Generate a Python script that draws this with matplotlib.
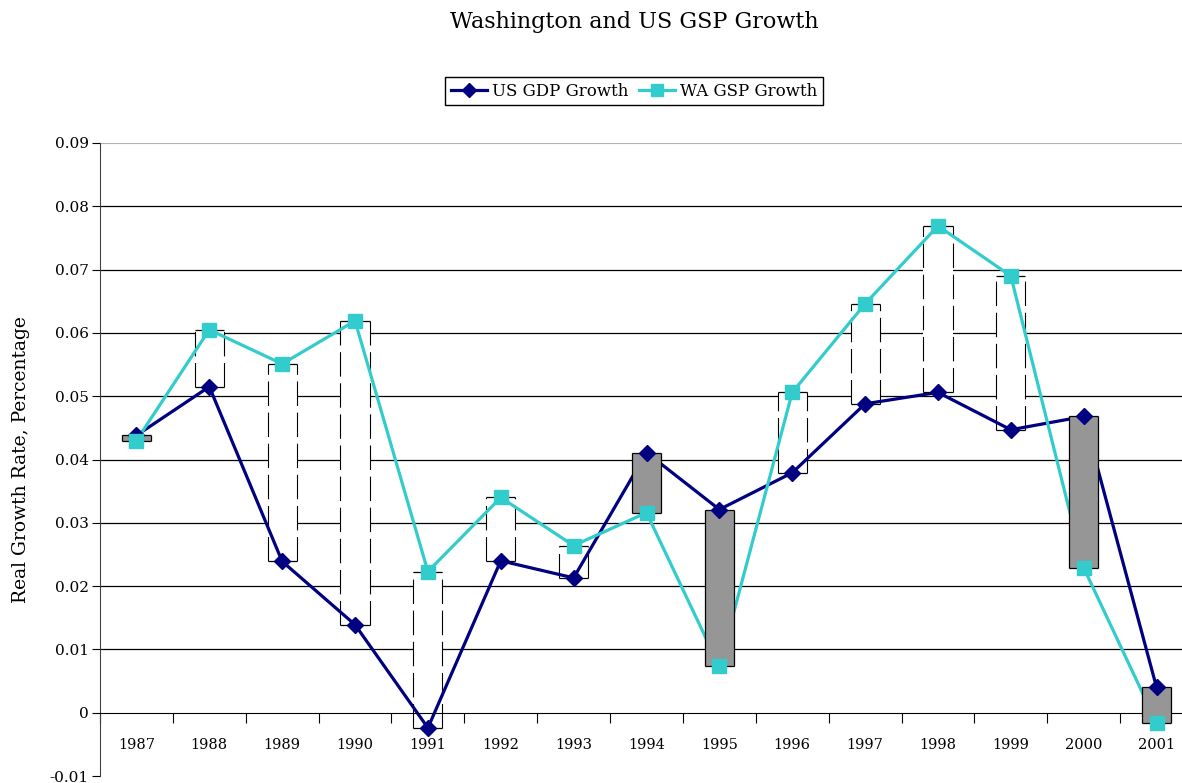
import numpy as np
import matplotlib
matplotlib.use("Agg")
import matplotlib.pyplot as plt
from matplotlib.ticker import FixedLocator, NullFormatter

years = ["1987", "1988", "1989", "1990", "1991", "1992", "1993", "1994",
         "1995", "1996", "1997", "1998", "1999", "2000", "2001"]
us_gdp = [0.0438, 0.0515, 0.0239, 0.0139, -0.0024, 0.0240, 0.0213, 0.0411,
          0.0321, 0.0379, 0.0488, 0.0506, 0.0447, 0.0468, 0.0040]
wa_gsp = [0.0430, 0.0605, 0.0551, 0.0619, 0.0223, 0.0340, 0.0264, 0.0316,
          0.0073, 0.0506, 0.0646, 0.0769, 0.0690, 0.0229, -0.0016]
yticks = [-0.01, 0, 0.01, 0.02, 0.03, 0.04, 0.05, 0.06, 0.07, 0.08, 0.09]
ytick_labels = ["-0.01", "0", "0.01", "0.02", "0.03", "0.04", "0.05",
                "0.06", "0.07", "0.08", "0.09"]

plt.rcParams["font.family"] = ["DejaVu Serif"]

fig = plt.figure(figsize=(11.82, 7.83), dpi=100)
ax = fig.add_axes([100 / 1182, 7 / 783, 1093 / 1182, 633 / 783])

x = np.arange(len(years))
us = np.array(us_gdp)
wa = np.array(wa_gsp)
lo = np.minimum(us, wa)
hi = np.maximum(us, wa)
up = wa >= us
w = 0.4

# up-down bars
ax.bar(x[~up], (hi - lo)[~up], bottom=lo[~up], width=w, color="#969696",
       edgecolor="none", zorder=3)
ax.bar(x[up], (hi - lo)[up], bottom=lo[up], width=w, color="white",
       edgecolor="none", zorder=1.5)
ax.hlines(np.r_[lo, hi], np.r_[x, x] - w / 2, np.r_[x, x] + w / 2,
          colors="black", lw=0.9, zorder=3.1)
ax.vlines(np.r_[x[~up] - w / 2, x[~up] + w / 2], np.r_[lo[~up], lo[~up]],
          np.r_[hi[~up], hi[~up]], colors="black", lw=0.9, zorder=3.1)
ax.vlines(np.r_[x[up] - w / 2, x[up] + w / 2], np.r_[lo[up], lo[up]],
          np.r_[hi[up], hi[up]], colors="black", lw=0.8,
          linestyles=(0, (22, 6)), zorder=1.6)

# lines
ax.plot(x, us, color="#000080", lw=2.3, zorder=2.5)
ax.plot(x, wa, color="#33CCCC", lw=2.3, zorder=2.5)
ax.plot(x, us, color="#000080", lw=0, marker="D", ms=8.5, zorder=4,
        label="US GDP Growth")
ax.plot(x, wa, color="#33CCCC", lw=0, marker="s", ms=9.5, zorder=4,
        label="WA GSP Growth")

ax.set_xlim(-0.5, len(years) - 0.5)
ax.set_ylim(-0.01, 0.09)

ax.set_yticks(yticks)
ax.set_yticklabels(ytick_labels, fontsize=11)
ax.tick_params(axis="y", direction="out", length=6, width=0.8, pad=2,
               colors="black")
for y in yticks[2:-1]:
    ax.axhline(y, color="black", lw=0.9, zorder=1)
ax.axhline(0.09, color="#b0b0b0", lw=0.8, zorder=1)

ax.spines["top"].set_visible(False)
ax.spines["right"].set_visible(False)
ax.spines["left"].set_color("#404040")
ax.spines["bottom"].set_position(("data", 0))
ax.spines["bottom"].set_color("black")
ax.xaxis.set_major_locator(FixedLocator(np.arange(len(years) + 1) - 0.5))
ax.xaxis.set_major_formatter(NullFormatter())
ax.xaxis.set_minor_locator(FixedLocator(x))
ax.set_xticklabels(years, minor=True, fontsize=10.5)
ax.tick_params(axis="x", which="major", direction="out", length=7, width=0.8)
ax.tick_params(axis="x", which="minor", length=0, pad=18)

ax.set_ylabel("Real Growth Rate, Percentage", fontsize=13.5, labelpad=14)
fig.text(634 / 1182, 1 - 22 / 783, "Washington and US GSP Growth",
         fontsize=16, ha="center", va="center")

leg_handles = [
    plt.Line2D([], [], color="#000080", lw=2.3, marker="D", ms=7),
    plt.Line2D([], [], color="#33CCCC", lw=2.3, marker="s", ms=8),
]
fig.legend(leg_handles, ["US GDP Growth", "WA GSP Growth"], loc="center",
           bbox_to_anchor=(634 / 1182, 1 - 91 / 783), ncol=2, fontsize=12,
           frameon=True, fancybox=False, edgecolor="black", framealpha=1,
           handlelength=2.2, handletextpad=0.3, columnspacing=0.6,
           borderpad=0.35)

fig.savefig("out.png", dpi=100)
